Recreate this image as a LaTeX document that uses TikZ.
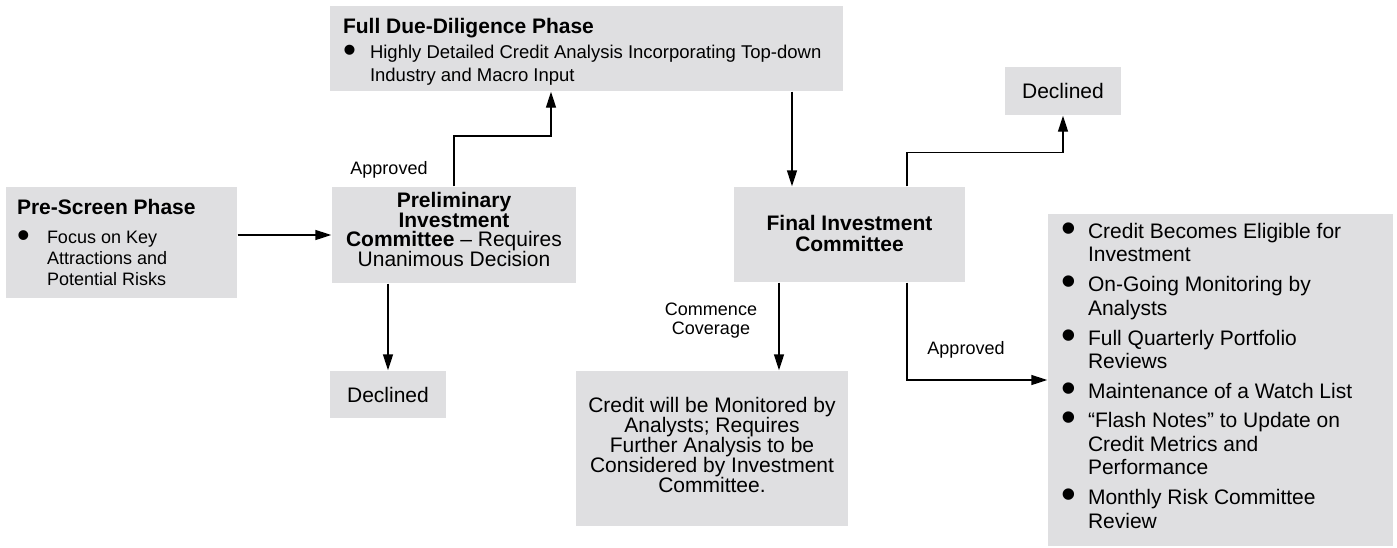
\documentclass[tikz,border=0pt]{standalone}
\usepackage{graphicx}
\usepackage{fontspec}
\setmainfont{Liberation Sans}
\usetikzlibrary{arrows.meta}

\definecolor{boxgray}{RGB}{223,223,225}
\setlength{\lineskiplimit}{-20pt}

% bullet, then the lines of the item stacked beside it
\newcommand{\blob}{\raisebox{-4pt}{\scalebox{2}{\textbullet}}}
\newcommand{\dotitem}[2][27pt]{\noindent\makebox[#1][l]{\blob}\begin{tabular}[t]{@{}l@{}}#2\end{tabular}}

\begin{document}
\begin{tikzpicture}[x=1pt, y=-1pt, >={Triangle[length=16pt,width=10pt]}, line width=1.4pt,
  font=\fontsize{21}{20}\selectfont,
  box/.style={fill=boxgray, inner sep=0pt},
  lbl/.style={font=\fontsize{18}{19}\selectfont, align=center}]

\useasboundingbox (0,0) rectangle (1397,547);

% the phases (text height/depth put the text baseline in place)
\node[box, minimum width=231pt, text height=27pt, text depth=84pt, text width=209pt, inner xsep=11pt, align=flush left] (pre) at (121.5,242.5)
  {\fontsize{21}{24}\selectfont\bfseries Pre-Screen Phase\par\vspace{9pt}
   \fontsize{18}{21}\selectfont\mdseries\dotitem[30pt]{Focus on Key\\Attractions and\\Potential Risks}};
\node[box, minimum width=513pt, text height=27pt, text depth=58pt, text width=487pt, inner xsep=13pt, align=flush left] (dd) at (586.5,48.5)
  {\fontsize{21}{24}\selectfont\bfseries Full Due-Diligence Phase\par\vspace{4pt}
   \fontsize{18.5}{23}\selectfont\mdseries\dotitem{Highly Detailed Credit Analysis Incorporating Top-down\\Industry and Macro Input}};

% the committees
\node[box, minimum width=244pt, text height=79pt, text depth=17pt, align=center, font=\fontsize{21}{19.5}\selectfont] (prelim) at (454,235)
  {\textbf{Preliminary}\\\textbf{Investment}\\\textbf{Committee} -- Requires\\Unanimous Decision};
\node[box, minimum width=231pt, text height=64pt, text depth=31pt, align=center, font=\fontsize{21}{21}\selectfont\bfseries] (final) at (849.5,234.5)
  {Final Investment\\Committee};

% outcomes
\node[box, minimum width=116pt, minimum height=47pt] (decl1) at (388,394.5) {Declined};
\node[box, minimum width=116pt, minimum height=48pt] (decl2) at (1063,91) {Declined};
\node[box, minimum width=272pt, text height=121pt, text depth=34pt, align=center] (cover) at (712,448.5)
  {Credit will be Monitored by\\Analysts; Requires\\Further Analysis to be\\Considered by Investment\\Committee.};
\node[box, minimum width=345pt, text height=24pt, text depth=308pt, text width=319pt, inner xsep=13pt, align=flush left, font=\fontsize{21}{23.5}\selectfont] (watch) at (1220.5,380)
  {\setlength{\parskip}{5.5pt}%
   \dotitem{Credit Becomes Eligible for\\Investment}\par
   \dotitem{On-Going Monitoring by\\Analysts}\par
   \dotitem{Full Quarterly Portfolio\\Reviews}\par
   \dotitem{Maintenance of a Watch List}\par
   \dotitem{``Flash Notes'' to Update on\\Credit Metrics and\\Performance}\par
   \dotitem{Monthly Risk Committee\\Review}};

% labels on the connectors
\node[lbl] (appr1) at (389,170) {Approved};
\node[lbl] (appr2) at (966,350) {Approved};
\node[lbl] (comm) at (711,321) {Commence\\Coverage};

% connectors
\coordinate (bend1) at (551,136);
\draw[->] (pre.east |- prelim.west) -- (prelim.west);
\draw[->] (decl1.north |- prelim.south) -- (decl1.north);
\draw[->] (prelim.north) |- (bend1) -- (bend1 |- dd.south);
\draw[->] ([xshift=-57.5pt]final.north |- dd.south) -- ([xshift=-57.5pt]final.north);
\draw[->] ([xshift=57.5pt]final.north) -- ++(0,-34) -| (decl2.south);
\draw[->] ([xshift=-70.5pt]final.south) -- ([xshift=-70.5pt]final.south |- cover.north);
\draw[->] ([xshift=57.5pt]final.south) |- (watch.west);

\end{tikzpicture}
\end{document}
